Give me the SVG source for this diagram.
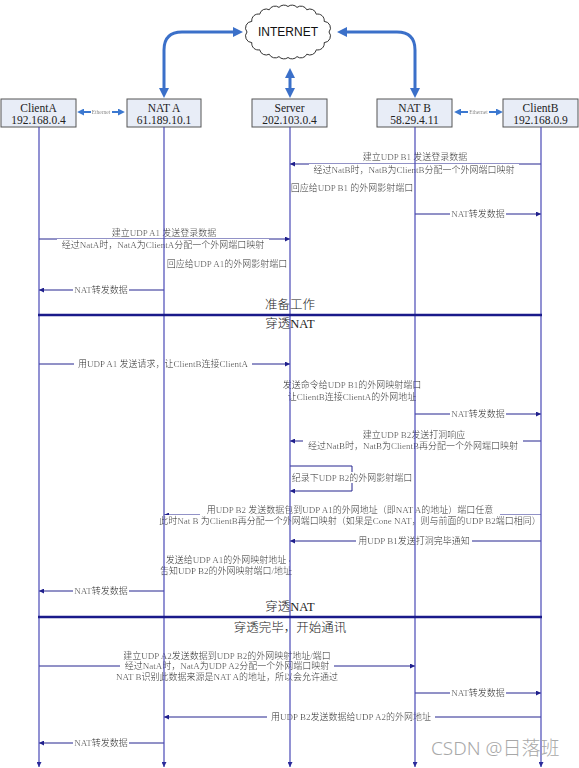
<svg xmlns="http://www.w3.org/2000/svg" width="579" height="768" viewBox="0 0 579 768">
<style>
.box{fill:#e8edf7;stroke:#555;stroke-width:1}
.bt{font-family:"Liberation Serif","Noto Sans CJK SC",serif;font-size:11.5px;fill:#222;text-anchor:middle;dominant-baseline:central}
.life{stroke:#4848b6;stroke-width:1.2;fill:none;marker-end:url(#lh)}
.msg{stroke:#25258f;stroke-width:1;fill:none;marker-end:url(#ah)}
.lbl{font-family:"Liberation Serif","Noto Sans CJK SC",serif;font-size:9px;fill:#3a3a3a;text-anchor:middle;dominant-baseline:central;filter:url(#bg)}
.hd{font-family:"Liberation Serif","Noto Sans CJK SC",serif;font-size:12.5px;font-weight:300;fill:#222;text-anchor:middle;dominant-baseline:central}
.sep{stroke:#1a1a8a;stroke-width:2.5}
.blue{stroke:#3b70c9;stroke-width:3;fill:none;marker-start:url(#bh);marker-end:url(#bh)}
.eth{stroke:#3b78d0;stroke-width:2;fill:none;marker-start:url(#eh);marker-end:url(#eh)}
.ethl{font-family:"Liberation Serif",serif;font-size:5.5px;fill:#555;text-anchor:middle;dominant-baseline:central;filter:url(#bg)}
</style>
<defs>
<filter id="bg" x="-0.02" y="0.02" width="1.04" height="0.96"><feFlood flood-color="#ffffff" result="f"/><feMerge><feMergeNode in="f"/><feMergeNode in="SourceGraphic"/></feMerge></filter>
<marker id="ah" viewBox="0 0 10 10" refX="10" refY="5" markerWidth="6" markerHeight="5" markerUnits="userSpaceOnUse" orient="auto"><path d="M0,0 L10,5 L0,10 z" fill="#1f1f8c"/></marker>
<marker id="lh" viewBox="0 0 10 10" refX="10" refY="5" markerWidth="6" markerHeight="5" markerUnits="userSpaceOnUse" orient="auto"><path d="M0,0 L10,5 L0,10 z" fill="#2a2a9a"/></marker>
<marker id="bh" viewBox="0 0 10 10" refX="4" refY="5" markerWidth="11" markerHeight="10" markerUnits="userSpaceOnUse" orient="auto-start-reverse"><path d="M0,0 L10,5 L0,10 z" fill="#3b70c9"/></marker>
<marker id="eh" viewBox="0 0 10 10" refX="3" refY="5" markerWidth="7" markerHeight="7" markerUnits="userSpaceOnUse" orient="auto-start-reverse"><path d="M0,0 L10,5 L0,10 z" fill="#3b78d0"/></marker>
</defs>
<rect width="579" height="768" fill="#fff"/>

<g id="internet">
<path d="M329,32 A6.5,6.5 0 0 1 324.2,42.6 A6.5,6.5 0 0 1 316.3,49.8 A6.5,6.5 0 0 1 306.8,54.2 A6.5,6.5 0 0 1 297,56.6 A6.5,6.5 0 0 1 288,57.5 A6.5,6.5 0 0 1 279,56.6 A6.5,6.5 0 0 1 269.2,54.2 A6.5,6.5 0 0 1 259.7,49.8 A6.5,6.5 0 0 1 251.8,42.6 A6.5,6.5 0 0 1 247,32 A6.5,6.5 0 0 1 251.8,21.4 A6.5,6.5 0 0 1 259.7,14.2 A6.5,6.5 0 0 1 269.2,9.8 A6.5,6.5 0 0 1 279,7.4 A6.5,6.5 0 0 1 288,6.5 A6.5,6.5 0 0 1 297,7.4 A6.5,6.5 0 0 1 306.8,9.8 A6.5,6.5 0 0 1 316.3,14.2 A6.5,6.5 0 0 1 324.2,21.4 A6.5,6.5 0 0 1 329,32 Z" fill="#fff" stroke="#333" stroke-width="1"/>
<text x="288" y="32" font-family="Liberation Sans, Arial, sans-serif" font-size="12" fill="#111" text-anchor="middle" dominant-baseline="central">INTERNET</text>
</g>

<g id="clientA"><rect class="box" x="1" y="99" width="75" height="28"/><text class="bt" x="38.5" y="108">ClientA</text><text class="bt" x="38.5" y="120">192.168.0.4</text></g>
<g id="natA"><rect class="box" x="127" y="99" width="74" height="28"/><text class="bt" x="164" y="108">NAT A</text><text class="bt" x="164" y="120">61.189.10.1</text></g>
<g id="server"><rect class="box" x="252" y="99" width="75" height="28"/><text class="bt" x="289.5" y="108">Server</text><text class="bt" x="289.5" y="120">202.103.0.4</text></g>
<g id="natB"><rect class="box" x="377" y="99" width="75" height="28"/><text class="bt" x="414.5" y="108">NAT B</text><text class="bt" x="414.5" y="120">58.29.4.11</text></g>
<g id="clientB"><rect class="box" x="503" y="99" width="75" height="28"/><text class="bt" x="540.5" y="108">ClientB</text><text class="bt" x="540.5" y="120">192.168.0.9</text></g>

<g id="connectors">
<path class="blue" d="M164,92 L164,50 Q164,32 182,32 L237,32"/>
<path class="blue" d="M415,92 L415,50 Q415,32 397,32 L343,32"/>
<path class="blue" d="M290,74 L290,92"/>
<path class="eth" d="M82,112 L120,112"/>
<path class="eth" d="M459,112 L498,112"/>

<path class="msg" d="M541,164 H290"/>
<path class="msg" d="M290,188 H415"/>
<path class="msg" d="M415,214 H541"/>
<path class="msg" d="M39,239 H290"/>
<path class="msg" d="M290,264 H164"/>
<path class="msg" d="M164,290 H39"/>
<path class="msg" d="M39,364 H290"/>
<path class="msg" d="M290,397 H415"/>
<path class="msg" d="M415,414 H541"/>
<path class="msg" d="M541,441 H290"/>
<path class="msg" d="M290,466 H352 V491 H290"/>
<path class="msg" d="M541,515 H164"/>
<path class="msg" d="M541,541 H290"/>
<path class="msg" d="M290,561 H164"/>
<path class="msg" d="M164,591 H39"/>
<path class="msg" d="M39,666 H415"/>
<path class="msg" d="M415,693 H541"/>
<path class="msg" d="M541,717 H164"/>
<path class="msg" d="M164,743 H39"/>
</g>

<g id="labels">
<text class="ethl" x="101" y="112">Ethernet</text>
<text class="ethl" x="478.5" y="112">Ethernet</text>
<text class="lbl" x="415" y="157">建立UDP B1 发送登录数据</text>
<text class="lbl" x="414" y="170">经过NatB时，NatB为ClientB分配一个外网端口映射</text>
<text class="lbl" x="352" y="188">回应给UDP B1 的外网影射端口</text>
<text class="lbl" x="478" y="214">NAT转发数据</text>
<text class="lbl" x="164" y="233">建立UDP A1 发送登录数据</text>
<text class="lbl" x="163" y="245">经过NatA时，NatA为ClientA分配一个外网端口映射</text>
<text class="lbl" x="227" y="264">回应给UDP A1的外网影射端口</text>
<text class="lbl" x="101" y="290">NAT转发数据</text>
<text class="lbl" x="163" y="364">用UDP A1 发送请求，让ClientB连接ClientA</text>
<text class="lbl" x="352" y="385">发送命令给UDP B1的外网映射端口</text>
<text class="lbl" x="352" y="397">让ClientB连接ClientA的外网地址</text>
<text class="lbl" x="478" y="414">NAT转发数据</text>
<text class="lbl" x="414" y="435">建立UDP B2发送打洞响应</text>
<text class="lbl" x="413" y="446">经过NatB时，NatB为ClientB再分配一个外网端口映射</text>
<text class="lbl" x="352" y="478">纪录下UDP B2的外网影射端口</text>
<text class="lbl" x="350" y="510">用UDP B2 发送数据包到UDP A1的外网地址（即NAT A的地址）端口任意</text>
<text class="lbl" x="350" y="521">此时Nat B 为ClientB再分配一个外网端口映射（如果是Cone NAT，则与前面的UDP B2端口相同）</text>
<text class="lbl" x="414" y="541">用UDP B1发送打洞完毕通知</text>
<text class="lbl" x="226" y="560">发送给UDP A1的外网映射地址</text>
<text class="lbl" x="226" y="571">告知UDP B2的外网映射端口/地址</text>
<text class="lbl" x="101" y="591">NAT转发数据</text>
<text class="lbl" x="227" y="656">建立UDP A2发送数据到UDP B2的外网映射地址/端口</text>
<text class="lbl" x="227" y="666">经过NatA时，NatA为UDP A2分配一个外网端口映射</text>
<text class="lbl" x="227" y="677">NAT B识别此数据来源是NAT A的地址，所以会允许通过</text>
<text class="lbl" x="478" y="693">NAT转发数据</text>
<text class="lbl" x="351" y="717">用UDP B2发送数据给UDP A2的外网地址</text>
<text class="lbl" x="101" y="743">NAT转发数据</text>
</g>

<g id="lifelines">
<path class="life" d="M39,127 V767"/>
<path class="life" d="M164,127 V767"/>
<path class="life" d="M290,127 V767"/>
<path class="life" d="M415,127 V767"/>
<path class="life" d="M541,127 V767"/>
</g>

<g id="sections">
<text class="hd" x="290" y="305">准备工作</text>
<line class="sep" x1="38" y1="315" x2="542" y2="315"/>
<text class="hd" x="290" y="324">穿透NAT</text>
<text class="hd" x="290" y="607">穿透NAT</text>
<line class="sep" x1="38" y1="617" x2="542" y2="617"/>
<text class="hd" x="290" y="628">穿透完毕，开始通讯</text>
</g>

<text x="431" y="748" font-family="Noto Sans, Noto Sans CJK SC, sans-serif" font-size="19" font-weight="300" fill="#a8a8a8" dominant-baseline="central">CSDN @日落班</text>
</svg>
